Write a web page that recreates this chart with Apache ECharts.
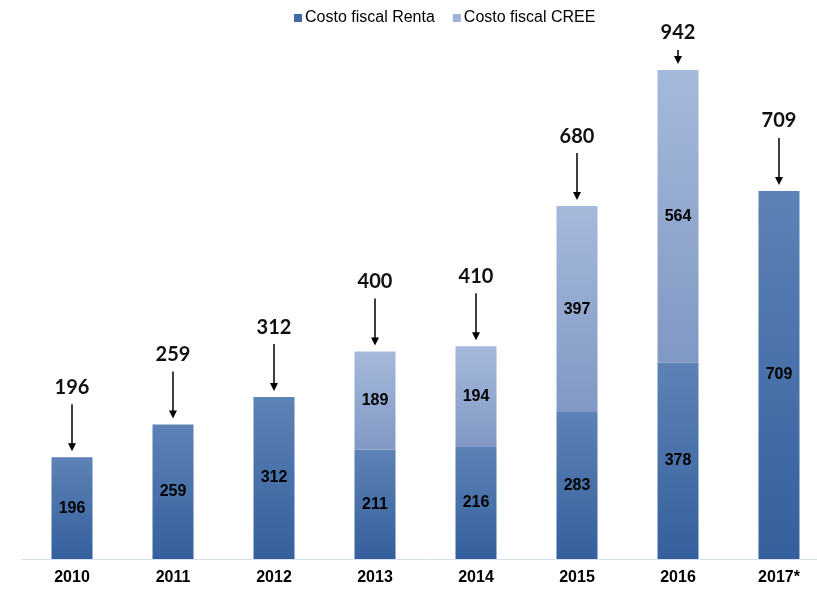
<!DOCTYPE html>
<html>
<head>
<meta charset="utf-8">
<script src="https://cdn.jsdelivr.net/npm/echarts@6/dist/echarts.min.js"></script>
<style>
html,body{margin:0;padding:0;background:#fff;overflow:hidden;}
#c{width:830px;height:589px;}
</style>
</head>
<body>
<div id="c"></div>
<script>
const categories = ['2010','2011','2012','2013','2014','2015','2016','2017*'];
const renta = [196, 259, 312, 211, 216, 283, 378, 709];
const cree = [null, null, null, 189, 194, 397, 564, null];
const totals = [196, 259, 312, 400, 410, 680, 942, 709];

const chart = echarts.init(document.getElementById('c'));
const grad = (a, b) => new echarts.graphic.LinearGradient(0, 0, 0, 1, [{offset: 0, color: a}, {offset: 1, color: b}]);

const option = {
  animation: false,
  backgroundColor: '#ffffff',
  legend: {
    data: [
      {name: 'Costo fiscal Renta', itemStyle: {color: '#4169a5'}},
      {name: 'Costo fiscal CREE', itemStyle: {color: '#9fb4d9'}}
    ],
    left: 289, top: 5,
    icon: 'rect', itemWidth: 8, itemHeight: 8, itemGap: 18,
    textStyle: {fontFamily: 'Liberation Sans, Arial', fontSize: 16, color: '#000', padding: [0, 0, 0, -2]}
  },
  grid: {left: 21.5, width: 808, top: 40, bottom: 30},
  xAxis: {
    type: 'category', data: categories,
    axisLine: {lineStyle: {color: '#d6dfee', width: 1}},
    axisTick: {show: false},
    axisLabel: {fontFamily: 'Liberation Sans, Arial', fontWeight: 'bold', fontSize: 16, color: '#000', margin: 11}
  },
  yAxis: {type: 'value', min: 0, max: 1000, show: false, splitLine: {show: false}},
  series: [
    {
      name: 'Costo fiscal Renta', type: 'bar', stack: 'a', data: renta, barWidth: 41,
      itemStyle: {color: grad('#5d82b6', '#35609d')},
      label: {show: true, position: 'inside', fontFamily: 'Liberation Sans, Arial', fontWeight: 'bold', fontSize: 16, color: '#000'}
    },
    {
      name: 'Costo fiscal CREE', type: 'bar', stack: 'a', data: cree, barWidth: 41,
      itemStyle: {color: grad('#a5b9db', '#8098c4')},
      label: {show: true, position: 'inside', fontFamily: 'Liberation Sans, Arial', fontWeight: 'bold', fontSize: 16, color: '#000'}
    },
    {
      name: 'Total', type: 'custom', z: 10,
      data: categories.map((c, i) => [i, totals[i]]),
      encode: {x: 0, y: 1},
      renderItem: function (params, api) {
        const p = api.coord([api.value(0), api.value(1)]);
        const x = p[0], top = p[1];
        const labelY = Math.max(top - 70, 33);
        const y0 = labelY + 17;
        const y1 = top - 6;
        return {
          type: 'group',
          children: [
            {type: 'text', style: {text: String(api.value(1)), x: x, y: labelY, textAlign: 'center', textVerticalAlign: 'middle',
              font: 'bold 20px Lato, "Open Sans", sans-serif', fill: '#111'}},
            {type: 'line', shape: {x1: x, y1: y0, x2: x, y2: y1 - 6}, style: {stroke: '#000', lineWidth: 1.5}},
            {type: 'polygon', shape: {points: [[x - 4, y1 - 8], [x + 4, y1 - 8], [x, y1]]}, style: {fill: '#000'}}
          ]
        };
      }
    }
  ]
};
chart.setOption(option);
</script>
</body>
</html>
